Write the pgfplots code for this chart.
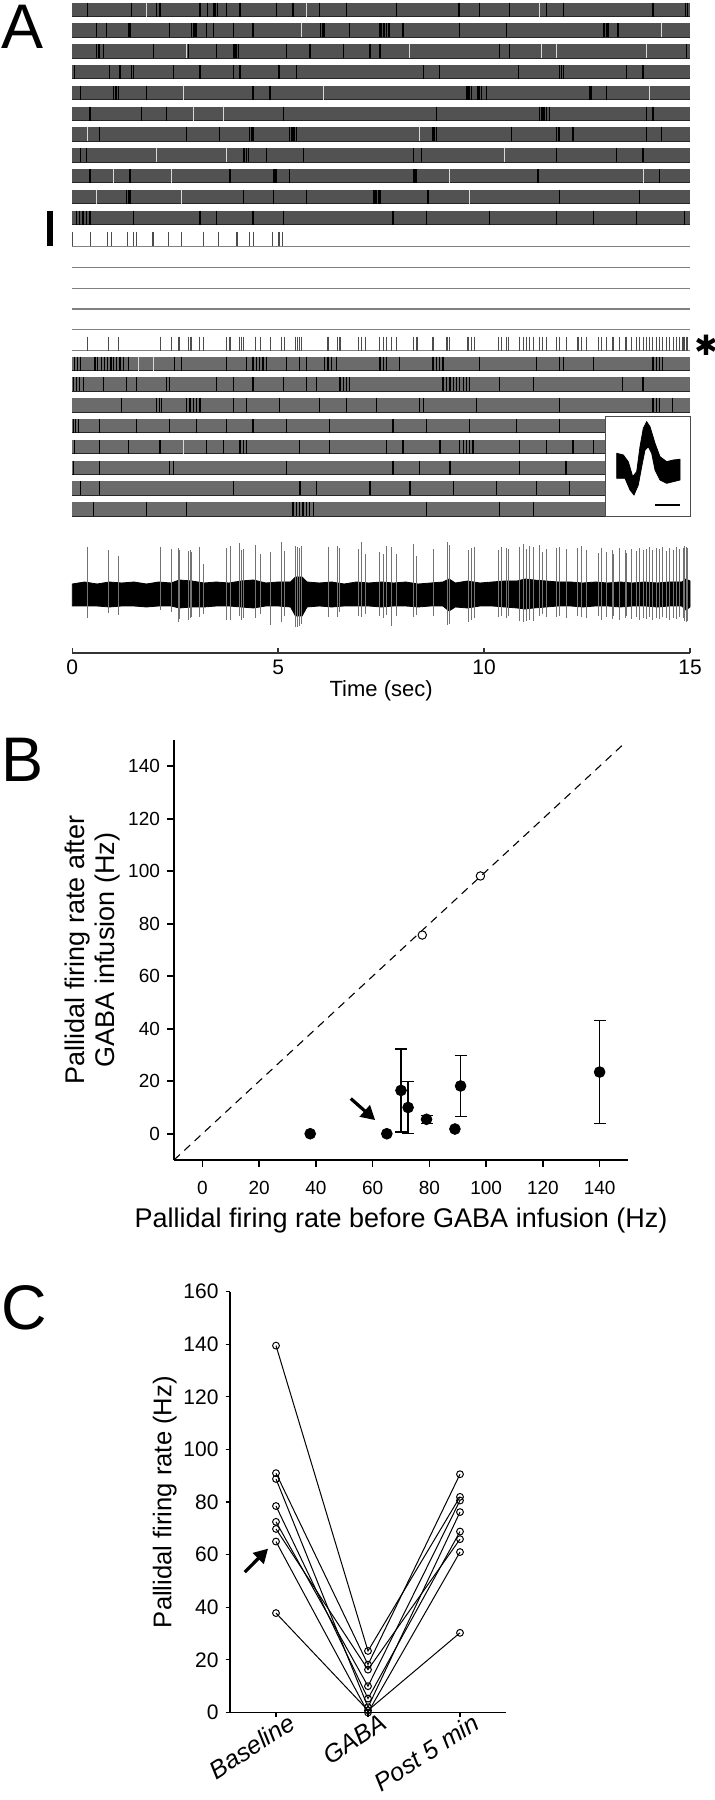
\documentclass[border=0pt]{standalone}
\usepackage{fontspec}
\setmainfont{Liberation Sans}
\newfontfamily\djv{DejaVu Sans}
\usepackage{pgfplots}
\pgfplotsset{compat=1.18}
\usetikzlibrary{arrows.meta}
\pgfplotsset{
  /pgf/number format/assume math mode=true,
  band/.style={draw=black!68, line width=7pt, mark=none},
  bandb/.style={draw=black!58, line width=7pt, mark=none},
  edge/.style={draw=black!85, line width=0.45pt, mark=none},
  spk/.style={only marks, mark=|, mark size=3.5pt, mark options={draw=black, line width=0.6pt}},
  wspk/.style={only marks, mark=|, mark size=3.5pt, mark options={draw=white!85!black, line width=0.5pt}},
  sspk/.style={only marks, mark=|, mark size=3.5pt, mark options={draw=black!70, line width=0.55pt}},
  baseln/.style={draw=black!50, line width=0.6pt, mark=none},
  subj/.style={black, line width=0.5pt, mark=o, mark size=1.7pt, mark options={fill=white, line width=0.5pt}},
}
\begin{document}
\begin{tikzpicture}[x=1pt,y=1pt]
\path[use as bounding box] (0,0) rectangle (357.5,900);

% ---------------- Panel A: raster ----------------
\begin{axis}[
  at={(36.15pt,573.5pt)}, anchor=south west, scale only axis,
  width=308.85pt, height=326.5pt,
  xmin=0, xmax=15, ymin=-653, ymax=0,
  axis x line*=bottom, axis y line=none,
  x axis line style={line width=1pt, black!80},
  xtick={0,5,10,15}, ytick=\empty,
  tick align=inside, major tick length=2.5pt,
  xtick style={line width=0.8pt, black!80},
  xticklabel style={font=\fontsize{10.5}{12}\selectfont},
  xlabel={Time (sec)}, xlabel style={font=\fontsize{11}{13}\selectfont, yshift=4pt},
  clip=false]
% top group
\addplot[band] coordinates {(0,-9.7) (15,-9.7)};
\addplot[edge] coordinates {(0,-16.4) (15,-16.4)};
\addplot[spk] coordinates {(0.36,-9.7) (1.44,-9.7) (2.05,-9.7) (2.13,-9.7) (3.10,-9.7) (3.28,-9.7) (3.44,-9.7) (3.48,-9.7) (3.52,-9.7) (3.75,-9.7) (4.07,-9.7) (4.96,-9.7) (5.36,-9.7) (6.01,-9.7) (6.66,-9.7) (7.87,-9.7) (9.37,-9.7) (9.41,-9.7) (9.89,-9.7) (10.62,-9.7) (11.51,-9.7) (11.92,-9.7) (14.10,-9.7) (14.89,-9.7) (14.93,-9.7)};
\addplot[wspk] coordinates {(1.80,-9.7) (5.69,-9.7) (11.35,-9.7)};

\addplot[band] coordinates {(0,-30.5) (15,-30.5)};
\addplot[edge] coordinates {(0,-37.2) (15,-37.2)};
\addplot[spk] coordinates {(0.59,-30.5) (0.83,-30.5) (1.36,-30.5) (1.40,-30.5) (2.37,-30.5) (2.90,-30.5) (2.94,-30.5) (2.98,-30.5) (3.02,-30.5) (3.26,-30.5) (3.42,-30.5) (3.91,-30.5) (4.39,-30.5) (6.03,-30.5) (6.07,-30.5) (6.11,-30.5) (6.74,-30.5) (7.47,-30.5) (7.51,-30.5) (7.55,-30.5) (7.59,-30.5) (7.63,-30.5) (7.67,-30.5) (7.71,-30.5) (8.03,-30.5) (9.41,-30.5) (10.54,-30.5) (12.89,-30.5) (12.93,-30.5) (12.97,-30.5) (13.01,-30.5) (13.25,-30.5)};
\addplot[wspk] coordinates {(5.57,-30.5) (14.30,-30.5)};

\addplot[band] coordinates {(0,-51.3) (15,-51.3)};
\addplot[edge] coordinates {(0,-58.0) (15,-58.0)};
\addplot[spk] coordinates {(0.59,-51.3) (0.63,-51.3) (0.67,-51.3) (0.75,-51.3) (1.97,-51.3) (2.82,-51.3) (3.50,-51.3) (3.91,-51.3) (3.95,-51.3) (3.99,-51.3) (4.03,-51.3) (5.20,-51.3) (5.77,-51.3) (6.58,-51.3) (7.23,-51.3) (7.47,-51.3) (10.38,-51.3) (10.62,-51.3) (14.91,-51.3)};
\addplot[wspk] coordinates {(2.78,-51.3) (8.20,-51.3) (11.39,-51.3) (11.76,-51.3) (13.94,-51.3)};

\addplot[band] coordinates {(0,-72.1) (15,-72.1)};
\addplot[edge] coordinates {(0,-78.8) (15,-78.8)};
\addplot[spk] coordinates {(0.06,-72.1) (0.91,-72.1) (1.16,-72.1) (1.44,-72.1) (1.48,-72.1) (2.45,-72.1) (3.10,-72.1) (3.91,-72.1) (4.07,-72.1) (5.00,-72.1) (5.04,-72.1) (5.44,-72.1) (8.52,-72.1) (8.92,-72.1) (10.83,-72.1) (11.84,-72.1) (11.88,-72.1) (11.92,-72.1) (13.46,-72.1) (13.86,-72.1)};

\addplot[band] coordinates {(0,-92.9) (15,-92.9)};
\addplot[edge] coordinates {(0,-99.6) (15,-99.6)};
\addplot[spk] coordinates {(0.19,-92.9) (1.00,-92.9) (1.04,-92.9) (1.08,-92.9) (1.12,-92.9) (1.80,-92.9) (4.39,-92.9) (4.80,-92.9) (9.57,-92.9) (9.61,-92.9) (9.65,-92.9) (9.69,-92.9) (9.85,-92.9) (9.89,-92.9) (9.93,-92.9) (10.06,-92.9) (12.57,-92.9) (12.61,-92.9) (12.97,-92.9)};
\addplot[wspk] coordinates {(2.69,-92.9) (6.09,-92.9) (14.02,-92.9)};

\addplot[band] coordinates {(0,-113.7) (15,-113.7)};
\addplot[edge] coordinates {(0,-120.4) (15,-120.4)};
\addplot[spk] coordinates {(0.43,-113.7) (1.68,-113.7) (2.29,-113.7) (5.12,-113.7) (8.84,-113.7) (11.35,-113.7) (11.39,-113.7) (11.43,-113.7) (11.47,-113.7) (11.51,-113.7) (11.59,-113.7) (13.94,-113.7) (14.10,-113.7)};
\addplot[wspk] coordinates {(2.94,-113.7) (3.67,-113.7)};

\addplot[band] coordinates {(0,-134.5) (15,-134.5)};
\addplot[edge] coordinates {(0,-141.2) (15,-141.2)};
\addplot[spk] coordinates {(0.67,-134.5) (2.78,-134.5) (3.58,-134.5) (4.31,-134.5) (4.35,-134.5) (4.39,-134.5) (5.28,-134.5) (5.32,-134.5) (5.36,-134.5) (5.40,-134.5) (5.44,-134.5) (8.76,-134.5) (8.80,-134.5) (8.84,-134.5) (10.67,-134.5) (11.76,-134.5) (11.80,-134.5) (11.84,-134.5) (12.16,-134.5) (13.94,-134.5) (14.30,-134.5)};
\addplot[wspk] coordinates {(0.36,-134.5) (8.44,-134.5)};

\addplot[band] coordinates {(0,-155.3) (15,-155.3)};
\addplot[edge] coordinates {(0,-162.0) (15,-162.0)};
\addplot[spk] coordinates {(0.19,-155.3) (0.35,-155.3) (4.15,-155.3) (4.19,-155.3) (4.23,-155.3) (4.27,-155.3) (4.72,-155.3) (5.61,-155.3) (8.28,-155.3) (8.48,-155.3) (11.76,-155.3) (13.21,-155.3) (13.86,-155.3)};
\addplot[wspk] coordinates {(2.05,-155.3) (3.75,-155.3) (10.50,-155.3)};

\addplot[band] coordinates {(0,-176.1) (15,-176.1)};
\addplot[edge] coordinates {(0,-182.8) (15,-182.8)};
\addplot[spk] coordinates {(0.43,-176.1) (1.40,-176.1) (3.83,-176.1) (4.88,-176.1) (4.92,-176.1) (4.96,-176.1) (5.28,-176.1) (8.28,-176.1) (8.32,-176.1) (8.36,-176.1) (11.31,-176.1) (14.26,-176.1)};
\addplot[wspk] coordinates {(0.99,-176.1) (2.41,-176.1) (9.17,-176.1) (13.86,-176.1)};

\addplot[band] coordinates {(0,-196.9) (15,-196.9)};
\addplot[edge] coordinates {(0,-203.6) (15,-203.6)};
\addplot[spk] coordinates {(1.32,-196.9) (1.36,-196.9) (1.40,-196.9) (4.15,-196.9) (4.88,-196.9) (5.69,-196.9) (7.31,-196.9) (7.35,-196.9) (7.39,-196.9) (7.43,-196.9) (7.47,-196.9) (8.64,-196.9) (11.84,-196.9) (13.78,-196.9)};
\addplot[wspk] coordinates {(0.59,-196.9) (2.65,-196.9) (9.65,-196.9)};

\addplot[band] coordinates {(0,-217.7) (15,-217.7)};
\addplot[edge] coordinates {(0,-224.4) (15,-224.4)};
\addplot[spk] coordinates {(0.10,-217.7) (0.18,-217.7) (0.26,-217.7) (0.34,-217.7) (0.43,-217.7) (1.48,-217.7) (3.10,-217.7) (3.50,-217.7) (4.39,-217.7) (5.12,-217.7) (7.79,-217.7) (8.60,-217.7) (10.14,-217.7) (11.76,-217.7) (12.65,-217.7) (13.70,-217.7) (14.87,-217.7)};

% sparse row, silent rows
\addplot[baseln] coordinates {(0,-246.7) (15,-246.7)};
\addplot[sspk] coordinates {(0.01,-239.5) (0.45,-239.5) (0.85,-239.5) (0.96,-239.5) (1.34,-239.5) (1.48,-239.5) (1.55,-239.5) (1.96,-239.5) (2.34,-239.5) (2.65,-239.5) (3.19,-239.5) (3.55,-239.5) (4.00,-239.5) (4.30,-239.5) (4.39,-239.5) (4.86,-239.5) (5.01,-239.5) (5.04,-239.5) (5.11,-239.5)};
\addplot[baseln] coordinates {(0,-267.5) (15,-267.5)};
\addplot[baseln] coordinates {(0,-288.3) (15,-288.3)};
\addplot[baseln] coordinates {(0,-309.1) (15,-309.1)};
\addplot[baseln] coordinates {(0,-329.9) (15,-329.9)};
% asterisk row
\addplot[baseln] coordinates {(0,-350.7) (15,-350.7)};
\addplot[sspk] coordinates {(0.36,-343.7) (0.87,-343.7) (1.13,-343.7) (2.15,-343.7) (2.40,-343.7) (2.57,-343.7) (2.61,-343.7) (2.82,-343.7) (2.86,-343.7) (2.90,-343.7) (3.08,-343.7) (3.18,-343.7) (3.74,-343.7) (3.83,-343.7) (4.07,-343.7) (4.11,-343.7) (4.15,-343.7) (4.44,-343.7) (4.56,-343.7) (4.82,-343.7) (5.07,-343.7) (5.16,-343.7) (5.43,-343.7) (5.47,-343.7) (5.51,-343.7) (5.57,-343.7) (6.21,-343.7) (6.43,-343.7) (6.50,-343.7) (6.94,-343.7) (7.02,-343.7) (7.13,-343.7) (7.47,-343.7) (7.55,-343.7) (7.63,-343.7) (7.75,-343.7) (7.87,-343.7) (8.28,-343.7) (8.37,-343.7) (8.76,-343.7) (9.10,-343.7) (9.17,-343.7) (9.61,-343.7) (9.69,-343.7) (9.77,-343.7) (10.34,-343.7) (10.42,-343.7) (10.54,-343.7) (10.60,-343.7) (10.87,-343.7) (10.95,-343.7) (11.03,-343.7) (11.11,-343.7) (11.19,-343.7) (11.35,-343.7) (11.42,-343.7) (11.51,-343.7) (11.76,-343.7) (11.84,-343.7) (12.00,-343.7) (12.28,-343.7) (12.36,-343.7) (12.49,-343.7) (12.77,-343.7) (12.85,-343.7) (12.97,-343.7) (13.11,-343.7) (13.15,-343.7) (13.29,-343.7) (13.43,-343.7) (13.45,-343.7) (13.58,-343.7) (13.70,-343.7) (13.78,-343.7) (13.86,-343.7) (13.94,-343.7) (14.02,-343.7) (14.10,-343.7) (14.18,-343.7) (14.26,-343.7) (14.34,-343.7) (14.42,-343.7) (14.50,-343.7) (14.59,-343.7) (14.67,-343.7) (14.75,-343.7) (14.83,-343.7) (14.87,-343.7) (14.91,-343.7) (14.95,-343.7)};

% bottom group
\addplot[bandb] coordinates {(0,-363.7) (15,-363.7)};
\addplot[edge] coordinates {(0,-370.4) (15,-370.4)};
\addplot[spk] coordinates {(0.06,-363.7) (0.12,-363.7) (0.19,-363.7) (0.55,-363.7) (0.62,-363.7) (0.70,-363.7) (0.78,-363.7) (0.86,-363.7) (0.94,-363.7) (1.00,-363.7) (1.08,-363.7) (1.16,-363.7) (1.24,-363.7) (1.36,-363.7) (2.49,-363.7) (2.65,-363.7) (3.75,-363.7) (4.23,-363.7) (4.39,-363.7) (4.47,-363.7) (4.55,-363.7) (4.63,-363.7) (4.72,-363.7) (5.20,-363.7) (5.52,-363.7) (5.69,-363.7) (6.13,-363.7) (6.21,-363.7) (6.29,-363.7) (6.42,-363.7) (7.47,-363.7) (7.55,-363.7) (7.63,-363.7) (7.95,-363.7) (8.76,-363.7) (8.84,-363.7) (8.92,-363.7) (9.00,-363.7) (9.89,-363.7) (11.27,-363.7) (11.84,-363.7) (11.92,-363.7) (12.65,-363.7) (14.10,-363.7) (14.18,-363.7) (14.26,-363.7) (14.34,-363.7)};
\addplot[wspk] coordinates {(1.60,-363.7) (1.97,-363.7)};

\addplot[bandb] coordinates {(0,-384.5) (15,-384.5)};
\addplot[edge] coordinates {(0,-391.2) (15,-391.2)};
\addplot[spk] coordinates {(0.02,-384.5) (0.10,-384.5) (0.18,-384.5) (0.27,-384.5) (0.75,-384.5) (1.32,-384.5) (1.56,-384.5) (2.29,-384.5) (2.37,-384.5) (3.50,-384.5) (3.91,-384.5) (4.39,-384.5) (5.12,-384.5) (5.69,-384.5) (5.93,-384.5) (6.50,-384.5) (6.58,-384.5) (6.66,-384.5) (6.74,-384.5) (9.00,-384.5) (9.08,-384.5) (9.17,-384.5) (9.25,-384.5) (9.33,-384.5) (9.41,-384.5) (9.49,-384.5) (9.57,-384.5) (9.65,-384.5) (10.38,-384.5) (11.19,-384.5) (13.37,-384.5) (13.86,-384.5)};

\addplot[bandb] coordinates {(0,-405.3) (15,-405.3)};
\addplot[edge] coordinates {(0,-412.0) (15,-412.0)};
\addplot[spk] coordinates {(1.20,-405.3) (2.05,-405.3) (2.11,-405.3) (2.17,-405.3) (2.78,-405.3) (2.86,-405.3) (2.94,-405.3) (3.02,-405.3) (3.10,-405.3) (3.91,-405.3) (4.23,-405.3) (5.04,-405.3) (6.01,-405.3) (6.66,-405.3) (7.39,-405.3) (8.44,-405.3) (8.52,-405.3) (9.81,-405.3) (11.84,-405.3) (14.10,-405.3) (14.18,-405.3) (14.26,-405.3) (14.58,-405.3)};

\addplot[bandb] coordinates {(0,-426.1) (15,-426.1)};
\addplot[edge] coordinates {(0,-432.8) (15,-432.8)};
\addplot[spk] coordinates {(0.02,-426.1) (0.08,-426.1) (0.15,-426.1) (0.67,-426.1) (1.56,-426.1) (2.37,-426.1) (3.02,-426.1) (3.75,-426.1) (4.39,-426.1) (5.20,-426.1) (6.25,-426.1) (7.79,-426.1) (8.60,-426.1) (9.65,-426.1) (10.78,-426.1) (11.84,-426.1)};

\addplot[bandb] coordinates {(0,-446.9) (15,-446.9)};
\addplot[edge] coordinates {(0,-453.6) (15,-453.6)};
\addplot[spk] coordinates {(0.06,-446.9) (0.67,-446.9) (1.36,-446.9) (2.13,-446.9) (3.26,-446.9) (3.67,-446.9) (4.07,-446.9) (4.15,-446.9) (4.23,-446.9) (5.52,-446.9) (6.25,-446.9) (7.63,-446.9) (8.03,-446.9) (8.93,-446.9) (9.41,-446.9) (9.49,-446.9) (9.57,-446.9) (9.65,-446.9) (9.73,-446.9) (10.86,-446.9) (11.51,-446.9) (12.16,-446.9) (12.65,-446.9)};
\addplot[wspk] coordinates {(2.69,-446.9)};

\addplot[bandb] coordinates {(0,-467.7) (15,-467.7)};
\addplot[edge] coordinates {(0,-474.4) (15,-474.4)};
\addplot[spk] coordinates {(0.02,-467.7) (0.67,-467.7) (2.37,-467.7) (2.45,-467.7) (5.20,-467.7) (7.79,-467.7) (8.44,-467.7) (9.17,-467.7) (10.86,-467.7) (11.99,-467.7)};

\addplot[bandb] coordinates {(0,-488.5) (15,-488.5)};
\addplot[edge] coordinates {(0,-495.2) (15,-495.2)};
\addplot[spk] coordinates {(0.19,-488.5) (0.67,-488.5) (3.91,-488.5) (5.53,-488.5) (5.93,-488.5) (7.23,-488.5) (8.20,-488.5) (9.25,-488.5) (10.30,-488.5) (11.27,-488.5) (12.08,-488.5)};

\addplot[bandb] coordinates {(0,-509.3) (15,-509.3)};
\addplot[edge] coordinates {(0,-516.0) (15,-516.0)};
\addplot[spk] coordinates {(0.51,-509.3) (1.80,-509.3) (2.78,-509.3) (5.36,-509.3) (5.44,-509.3) (5.52,-509.3) (5.60,-509.3) (5.68,-509.3) (5.76,-509.3) (5.85,-509.3) (8.60,-509.3) (10.38,-509.3) (11.19,-509.3)};

% vertical scale bar
\addplot[black, line width=3pt] coordinates {(-0.54,-211) (-0.54,-246.5)};
\end{axis}

% ---------------- Panel A: trace ----------------
\begin{axis}[
  at={(36.15pt,573pt)}, anchor=south west, scale only axis,
  width=308.85pt, height=60pt,
  xmin=0, xmax=15, ymin=-60, ymax=60, hide axis, clip=false]
\addplot[fill=black, draw=black, line width=0.4pt] coordinates {
(0,10) (0.3,12) (0.6,10) (0.9,12) (1.2,11) (1.5,12) (1.8,10) (2.1,12) (2.4,11) (2.6,14) (2.9,13) (3.2,11) (3.5,12) (3.8,11) (4.1,13) (4.4,14) (4.7,11) (5.0,12) (5.3,12) (5.42,17) (5.58,17) (5.7,12) (6.0,11) (6.3,12) (6.6,10) (6.9,12) (7.2,11) (7.5,12) (7.8,11) (8.1,12) (8.4,10) (8.7,11) (9.0,12) (9.15,15) (9.3,11) (9.6,13) (9.9,11) (10.2,12) (10.5,13) (10.8,13) (11.0,15) (11.2,14) (11.5,13) (11.8,12) (12.1,12) (12.4,11) (12.7,12) (13.0,11) (13.3,12) (13.6,11) (13.9,12) (14.2,11) (14.5,12) (14.8,12) (14.9,15) (15,13)
(15,-13) (14.9,-16) (14.8,-12) (14.5,-12) (14.2,-13) (13.9,-12) (13.6,-12) (13.3,-13) (13.0,-12) (12.7,-12) (12.4,-13) (12.1,-12) (11.8,-12) (11.5,-13) (11.2,-14) (11.0,-15) (10.8,-14) (10.5,-13) (10.2,-12) (9.9,-12) (9.6,-14) (9.3,-13) (9.15,-17) (9.0,-12) (8.7,-12) (8.4,-13) (8.1,-12) (7.8,-12) (7.5,-13) (7.2,-12) (6.9,-12) (6.6,-12) (6.3,-13) (6.0,-12) (5.7,-13) (5.58,-22) (5.42,-22) (5.3,-13) (5.0,-12) (4.7,-12) (4.4,-14) (4.1,-13) (3.8,-12) (3.5,-12) (3.2,-13) (2.9,-13) (2.6,-14) (2.4,-12) (2.1,-12) (1.8,-13) (1.5,-12) (1.2,-12) (0.9,-13) (0.6,-12) (0.3,-12) (0,-12)} -- cycle;
\addplot[ycomb, draw=black!55, line width=0.5pt, mark=none] coordinates {(0.36,47) (0.87,44) (1.13,38) (2.15,47) (2.40,45) (2.57,46) (2.61,44) (2.82,43) (2.86,44) (2.90,42) (3.08,47) (3.18,30) (3.74,46) (3.83,48) (4.07,51) (4.11,44) (4.15,45) (4.44,49) (4.56,40) (4.82,42) (5.07,52) (5.16,43) (5.43,48) (5.47,47) (5.51,46) (5.57,48) (6.21,47) (6.43,48) (6.50,46) (6.94,45) (7.02,52) (7.13,40) (7.47,42) (7.55,40) (7.63,48) (7.75,47) (7.87,40) (8.28,50) (8.37,38) (8.76,45) (9.10,52) (9.17,49) (9.61,44) (9.69,46) (9.77,47) (10.34,44) (10.42,47) (10.54,46) (10.60,45) (10.87,47) (10.95,50) (11.03,45) (11.11,48) (11.19,47) (11.35,49) (11.42,42) (11.51,45) (11.76,46) (11.84,47) (12.00,45) (12.28,46) (12.36,48) (12.49,44) (12.77,41) (12.85,46) (12.97,42) (13.11,44) (13.15,40) (13.29,46) (13.43,44) (13.45,41) (13.58,45) (13.70,43) (13.78,46) (13.86,44) (13.94,45) (14.02,47) (14.10,44) (14.18,46) (14.26,45) (14.34,47) (14.42,43) (14.50,46) (14.59,44) (14.67,47) (14.75,45) (14.83,46) (14.87,48) (14.91,47) (14.95,46)};
\addplot[ycomb, draw=black!55, line width=0.5pt, mark=none] coordinates {(0.36,-24) (0.87,-19) (1.13,-21) (2.15,-16) (2.40,-18) (2.57,-28) (2.61,-25) (2.82,-26) (2.86,-24) (2.90,-23) (3.08,-23) (3.18,-20) (3.74,-26) (3.83,-26) (4.07,-22) (4.11,-26) (4.15,-24) (4.44,-24) (4.56,-20) (4.82,-31) (5.07,-28) (5.16,-22) (5.43,-33) (5.47,-33) (5.51,-32) (5.57,-30) (6.21,-23) (6.43,-23) (6.50,-18) (6.94,-22) (7.02,-23) (7.13,-20) (7.47,-22) (7.55,-24) (7.63,-21) (7.75,-32) (7.87,-22) (8.28,-23) (8.37,-21) (8.76,-22) (9.10,-31) (9.17,-30) (9.61,-28) (9.69,-26) (9.77,-24) (10.34,-23) (10.42,-22) (10.54,-24) (10.60,-22) (10.87,-27) (10.95,-28) (11.03,-27) (11.11,-26) (11.19,-27) (11.35,-22) (11.42,-20) (11.51,-23) (11.76,-23) (11.84,-22) (12.00,-24) (12.28,-22) (12.36,-23) (12.49,-24) (12.77,-22) (12.85,-26) (12.97,-23) (13.11,-25) (13.15,-22) (13.29,-26) (13.43,-24) (13.45,-22) (13.58,-25) (13.70,-23) (13.78,-26) (13.86,-24) (13.94,-25) (14.02,-23) (14.10,-26) (14.18,-24) (14.26,-25) (14.34,-23) (14.42,-24) (14.50,-26) (14.59,-24) (14.67,-25) (14.75,-23) (14.83,-24) (14.87,-27) (14.91,-28) (14.95,-27)};
\end{axis}

% ---------------- Panel A: inset waveform ----------------
\begin{axis}[
  at={(302.5pt,641.65pt)}, anchor=south west, scale only axis,
  width=42.85pt, height=50pt,
  xmin=0, xmax=85.7, ymin=0, ymax=100,
  xtick=\empty, ytick=\empty,
  axis line style={black!70, line width=0.5pt},
  axis background/.style={fill=white}]
\addplot[fill=black, draw=black, line width=0.4pt] coordinates {
(11.7,63.4) (18.3,61.7) (23.3,55) (27.7,40) (31.7,45) (35,70) (38.3,88.4) (41.7,95) (45,90) (50,73.4) (55,60) (61.7,55) (68.3,56.7) (75,57.4)
(75,36.7) (68.3,35) (61.7,33.4) (55,36.7) (50,46.7) (46.7,63.4) (43.3,70) (40,66.7) (36.7,50) (33.3,31.7) (29,21.7) (25,26.7) (20,38.4) (11.7,38.4)} -- cycle;
\addplot[black, line width=0.8pt] coordinates {(50,11.4) (75,11.4)};
\end{axis}

% ---------------- Panel B ----------------
\begin{axis}[
  at={(87pt,320pt)}, anchor=south west, scale only axis,
  width=227pt, height=210pt,
  xmin=-10, xmax=150, ymin=-10, ymax=150,
  axis x line*=bottom, axis y line*=left,
  axis line style={line width=1pt},
  tick align=outside, major tick length=3.5pt,
  tick style={line width=0.8pt, black},
  xtick={0,20,...,140}, ytick={0,20,...,140},
  ticklabel style={font=\fontsize{9.5}{11}\selectfont},
  xticklabel style={yshift=-3.5pt},
  xlabel={Pallidal firing rate before GABA infusion (Hz)},
  ylabel={Pallidal firing rate after\\GABA infusion (Hz)},
  xlabel style={font=\fontsize{13.5}{15}\selectfont},
  ylabel style={font=\fontsize{13.5}{15}\selectfont, align=center},
  ylabel shift=-3pt,
  clip=false]
\addplot[black, line width=0.55pt, dash pattern=on 4pt off 3pt] coordinates {(-10,-10) (148,148)};
\addplot[only marks, mark=*, mark size=2.7pt, black,
  error bars/.cd, y dir=both, y explicit,
  error bar style={line width=0.6pt},
  error mark options={rotate=90, mark size=3pt, line width=0.6pt}]
  coordinates {(70,16.5) +- (0,15.8) (72.5,10) +- (0,10) (79,5.5) +- (0,1.5) (91,18.2) +- (0,11.5) (140,23.5) +- (0,19.7)};
\addplot[only marks, mark=*, mark size=2.7pt, black] coordinates {(38,0) (65,0) (89,1.8)};
\addplot[only marks, mark=o, mark size=2.1pt, black, mark options={fill=white, line width=0.5pt}] coordinates {(77.5,75.7) (98,98.2)};
\addplot[black, line width=1.6pt, -{Triangle[length=7pt, width=7.5pt]}] coordinates {(52.3,13.4) (60.9,5.2)};
\end{axis}

% ---------------- Panel C ----------------
\begin{axis}[
  at={(115pt,43.75pt)}, anchor=south west, scale only axis,
  width=138pt, height=210.4pt,
  xmin=-0.5, xmax=2.5, ymin=0, ymax=160,
  axis x line*=bottom, axis y line*=left,
  axis line style={line width=0.6pt},
  tick align=outside, major tick length=2.2pt,
  tick style={line width=0.6pt, black},
  xtick={0,1,2}, xticklabels={Baseline, GABA, Post 5 min},
  ytick={0,20,...,160},
  yticklabel style={font=\fontsize{10.5}{12}\selectfont},
  xticklabel style={font=\fontsize{12.5}{14}\selectfont\itshape, rotate=33, anchor=north east, inner sep=1pt, xshift=7pt},
  ylabel={Pallidal firing rate (Hz)},
  ylabel style={font=\fontsize{12.8}{15}\selectfont},
  ylabel shift=-3.5pt,
  clip=false]
\addplot[subj] coordinates {(0,139.5) (1,23.4) (2,82)};
\addplot[subj] coordinates {(0,91) (1,18.2) (2,90.6)};
\addplot[subj] coordinates {(0,88.8) (1,2) (2,76.2)};
\addplot[subj] coordinates {(0,78.5) (1,5.3) (2,68.8)};
\addplot[subj] coordinates {(0,72.5) (1,10) (2,80.6)};
\addplot[subj] coordinates {(0,69.8) (1,16.3) (2,65.9)};
\addplot[subj] coordinates {(0,65) (1,0) (2,61)};
\addplot[subj] coordinates {(0,37.8) (1,0.8) (2,30.3)};
\addplot[black, line width=1.6pt, -{Triangle[length=7pt, width=7.5pt]}] coordinates {(-0.34,53.4) (-0.086,62.3)};
\end{axis}

% panel letters and asterisk
\node[anchor=base west, inner sep=0, font=\fontsize{31.5}{32}\selectfont] at (0.8pt,875.5pt) {A};
\node[anchor=base west, inner sep=0, font=\fontsize{31.5}{32}\selectfont] at (0.5pt,509pt) {B};
\node[anchor=base west, inner sep=0, font=\fontsize{31.5}{32}\selectfont] at (0.5pt,235pt) {C};
\node[inner sep=0, font=\djv\fontsize{14}{14}\selectfont] at (353pt,727.5pt) {✱};
\end{tikzpicture}
\end{document}
